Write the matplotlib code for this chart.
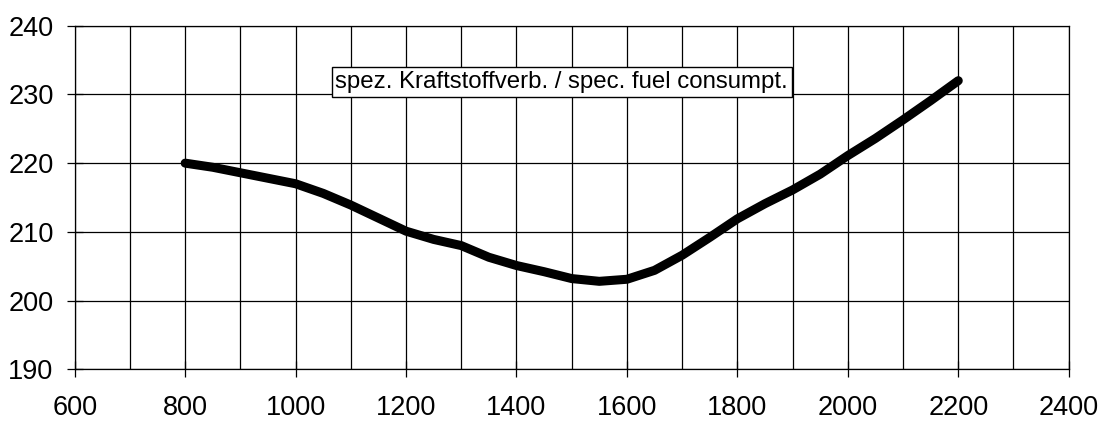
import matplotlib
matplotlib.use("Agg")
import matplotlib.pyplot as plt
from matplotlib.ticker import MultipleLocator

# speed (rpm) vs specific fuel consumption
speed = [800, 850, 900, 950, 1000, 1050, 1100, 1150, 1200, 1250, 1300, 1350,
         1400, 1450, 1500, 1550, 1600, 1650, 1700, 1750, 1800, 1850, 1900,
         1950, 2000, 2050, 2100, 2150, 2200]
consumption = [220.0, 219.4, 218.6, 217.8, 217.0, 215.6, 213.9, 212.0, 210.1,
               208.9, 208.0, 206.3, 205.1, 204.2, 203.2, 202.8, 203.1, 204.4,
               206.6, 209.2, 211.9, 214.1, 216.1, 218.4, 221.1, 223.6, 226.3,
               229.1, 232.0]
label = "spez. Kraftstoffverb. / spec. fuel consumpt."

plt.rcParams['font.family'] = ['Liberation Sans', 'DejaVu Sans']

fig = plt.figure(figsize=(11.02, 4.23), dpi=100)
ax = fig.add_axes([0.0678, 0.127, 0.902, 0.8122])

ax.plot(speed, consumption, color="black", lw=6.5, solid_capstyle="round",
        solid_joinstyle="round", zorder=3)

ax.set_xlim(600, 2400)
ax.set_ylim(190, 240)
ax.xaxis.set_major_locator(MultipleLocator(200))
ax.xaxis.set_minor_locator(MultipleLocator(100))
ax.yaxis.set_major_locator(MultipleLocator(10))
ax.grid(which="both", axis="x", color="black", lw=0.9)
ax.grid(which="major", axis="y", color="black", lw=0.9)
ax.tick_params(axis="both", which="major", direction="inout", length=11.5,
               width=0.9, labelsize=19.5, color="black")
ax.tick_params(axis="x", which="minor", length=0)
ax.tick_params(axis="x", pad=13)
ax.tick_params(axis="y", pad=9.5)
for s in ax.spines.values():
    s.set_linewidth(0.9)
    s.set_color("black")

ax.text(1072, 231.8, label, fontsize=17.3, ha="left", va="center", zorder=4,
        bbox=dict(boxstyle="square,pad=0.16", fc="white", ec="black", lw=1))

fig.savefig("out.png", dpi=100)
